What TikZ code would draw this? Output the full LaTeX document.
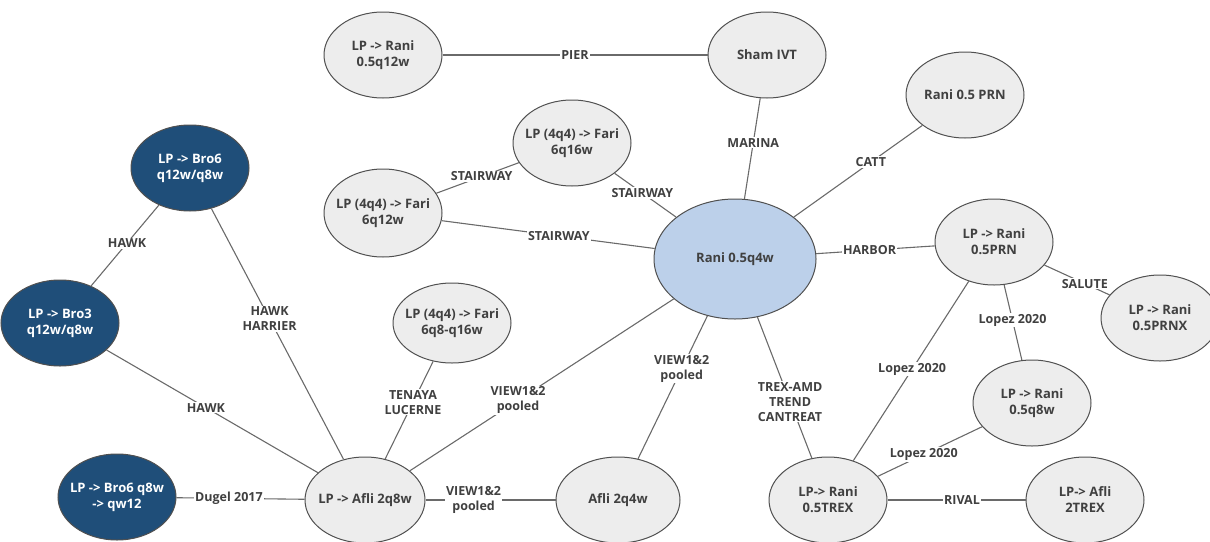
\documentclass[tikz,border=0pt]{standalone}
\usepackage{fontspec}
\setmainfont{Open Sans}
\usetikzlibrary{shapes.geometric}
\definecolor{nodefill}{HTML}{EDEDED}
\definecolor{nodeedge}{HTML}{505050}
\definecolor{darkblue}{HTML}{1F4E79}
\definecolor{lightblue}{HTML}{BCD0EA}
\definecolor{txt}{HTML}{404040}
\definecolor{linec}{HTML}{6A6A6A}
\tikzset{
  ell/.style={ellipse, draw=nodeedge, line width=1pt, fill=nodefill, text=txt, inner sep=-18pt,
    minimum width=118pt, minimum height=86pt, align=center,
    font=\fontsize{13}{16}\selectfont\bfseries},
  dark/.style={ell, fill=darkblue, text=white},
  hub/.style={ell, fill=lightblue, minimum width=162pt, minimum height=120pt},
  conn/.style={draw=linec, line width=1.1pt},
  lbl/.style={fill=white, inner sep=1pt, text=txt, align=center,
    font=\fontsize{12.5}{15}\selectfont\bfseries}
}
\begin{document}
\begin{tikzpicture}[x=1pt,y=-1pt]
\useasboundingbox (0,0) rectangle (1210,541);
\node[ell] (r12) at (383,55) {LP -> Rani\\0.5q12w};
\node[ell] (sham) at (767,55) {Sham IVT};
\node[ell] (prn) at (965,95) {Rani 0.5 PRN};
\node[ell] (f16) at (572,143) {LP (4q4) -> Fari\\6q16w};
\node[ell, minimum height=88pt] (f12) at (383,213) {LP (4q4) -> Fari\\6q12w};
\node[hub] (c) at (735,259) {Rani 0.5q4w};
\node[dark] (b6) at (190,168) {LP -> Bro6\\q12w/q8w};
\node[dark] (b3) at (60,323) {LP -> Bro3\\q12w/q8w};
\node[dark] (b6b) at (117,497) {LP -> Bro6 q8w\\-> qw12};
\node[ell, minimum width=120pt] (afl) at (365,500) {LP -> Afli 2q8w};
\node[ell, minimum height=80pt] (f8) at (452,323) {LP (4q4) -> Fari\\6q8-q16w};
\node[ell, minimum width=124pt] (af4) at (618,500) {Afli 2q4w};
\node[ell] (rprn) at (994,242) {LP -> Rani\\0.5PRN};
\node[ell] (prnx) at (1160,318) {LP -> Rani\\0.5PRNX};
\node[ell] (q8) at (1032,403) {LP -> Rani\\0.5q8w};
\node[ell] (trex) at (828,500) {LP-> Rani\\0.5TREX};
\node[ell] (atrex) at (1085,500) {LP-> Afli\\2TREX};

\draw[conn] (r12) -- node[lbl,pos=0.5] {PIER} (sham);
\draw[conn] (sham) -- node[lbl,pos=0.44] {MARINA} (c);
\draw[conn] (prn) -- node[lbl,pos=0.4] {CATT} (c);
\draw[conn] (f16) -- node[lbl,pos=0.45] {STAIRWAY} (f12);
\draw[conn] (f16) -- node[lbl,pos=0.45] {STAIRWAY} (c);
\draw[conn] (f12) -- node[lbl,pos=0.55] {STAIRWAY} (c);
\draw[conn] (c) -- node[lbl,pos=0.45] {HARBOR} (rprn);
\draw[conn] (rprn) -- node[lbl,pos=0.62] {SALUTE} (prnx);
\draw[conn] (rprn) -- node[lbl,pos=0.47] {Lopez 2020} (q8);
\draw[conn] (rprn) -- node[lbl,pos=0.49] {Lopez 2020} (trex);
\draw[conn] (q8) -- node[lbl,pos=0.56] {Lopez 2020} (trex);
\draw[conn] (c) -- node[lbl,pos=0.6] {TREX-AMD\\TREND\\CANTREAT} (trex);
\draw[conn] (trex) -- node[lbl,pos=0.54] {RIVAL} (atrex);
\draw[conn] (c) -- node[lbl,pos=0.37] {VIEW1\&2\\pooled} (af4);
\draw[conn] (c) -- node[lbl,pos=0.59] {VIEW1\&2\\pooled} (afl);
\draw[conn] (f8) -- node[lbl,pos=0.42] {TENAYA\\LUCERNE} (afl);
\draw[conn] (afl) -- node[lbl,pos=0.37] {VIEW1\&2\\pooled} (af4);
\draw[conn] (b6) -- node[lbl,pos=0.44] {HAWK\\HARRIER} (afl);
\draw[conn] (b6) -- node[lbl,pos=0.47] {HAWK} (b3);
\draw[conn] (b3) -- node[lbl,pos=0.47] {HAWK} (afl);
\draw[conn] (b6b) -- node[lbl,pos=0.41] {Dugel 2017} (afl);
\end{tikzpicture}
\end{document}
